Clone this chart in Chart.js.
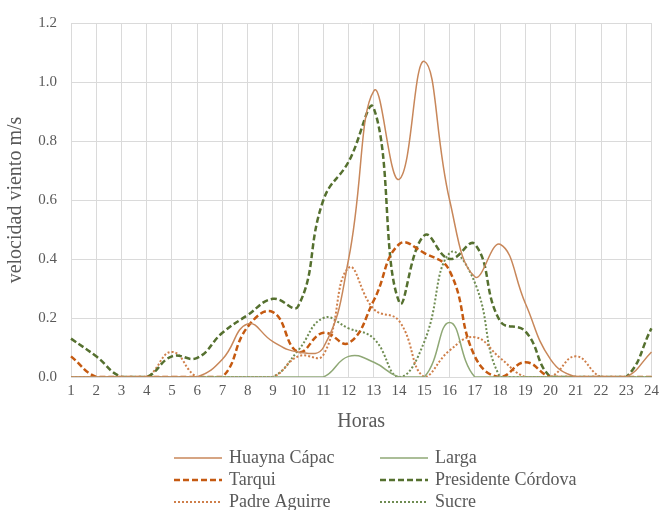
<!DOCTYPE html>
<html>
<head>
<meta charset="utf-8">
<title>Velocidad del viento por hora</title>
<script src="https://cdn.jsdelivr.net/npm/chart.js@4.4.1/dist/chart.umd.min.js"></script>
<style>
  html, body { margin: 0; padding: 0; background: #fff; }
  #wrap { width: 664px; height: 510px; }
</style>
</head>
<body>
<div id="wrap"><canvas id="windChart" width="664" height="510"></canvas></div>
<script>
// Horas del día
const hours = ['1', '2', '3', '4', '5', '6', '7', '8', '9', '10', '11', '12',
  '13', '14', '15', '16', '17', '18', '19', '20', '21', '22', '23', '24'];

// Velocidad del viento (m/s) por calle
const huaynaCapac = [0, 0, 0, 0, 0, 0, 0.06, 0.18, 0.12, 0.085, 0.10, 0.40,
  0.97, 0.67, 1.07, 0.60, 0.34, 0.45, 0.25, 0.06, 0, 0, 0, 0.085];
const larga = [0, 0, 0, 0, 0, 0, 0, 0, 0, 0, 0, 0.07,
  0.05, 0, 0, 0.185, 0, 0, 0, 0, 0, 0, 0, 0];
const tarqui = [0.07, 0, 0, 0, 0, 0, 0, 0.17, 0.22, 0.085, 0.15, 0.115,
  0.26, 0.45, 0.42, 0.36, 0.07, 0, 0.05, 0, 0, 0, 0, 0];
const presidenteCordova = [0.13, 0.07, 0, 0, 0.07, 0.065, 0.15, 0.21, 0.265, 0.24, 0.60, 0.73,
  0.91, 0.255, 0.48, 0.40, 0.45, 0.19, 0.155, 0, 0, 0, 0, 0.165];
const padreAguirre = [0, 0, 0, 0, 0.085, 0, 0, 0, 0, 0.07, 0.075, 0.37,
  0.23, 0.19, 0, 0.09, 0.135, 0.065, 0, 0, 0.07, 0, 0, 0];
const sucre = [0, 0, 0, 0, 0, 0, 0, 0, 0, 0.09, 0.20, 0.165,
  0.13, 0, 0.12, 0.42, 0.32, 0, 0, 0, 0, 0, 0, 0];

const FONT = '"Liberation Serif", "Times New Roman", serif';
const GREY_TEXT = '#595959';
const GRID = '#dadada';

// posiciones de la leyenda (dos columnas, tres filas)
const LEGEND_COLS = [174, 380];
const LEGEND_ROWS = [458, 480, 502];

function serie(label, data, color, width, dash) {
  return {
    label: label,
    data: data,
    borderColor: color,
    backgroundColor: color,
    borderWidth: width,
    borderDash: dash,
    borderCapStyle: 'butt',
    pointRadius: 0,
    pointHoverRadius: 0,
    fill: false,
    tension: 0.45
  };
}

// leyenda dibujada a mano para tener dos columnas alineadas
const twoColumnLegend = {
  id: 'twoColumnLegend',
  afterDraw(chart) {
    const ctx = chart.ctx;
    ctx.save();
    ctx.font = '18px ' + FONT;
    ctx.textBaseline = 'middle';
    ctx.textAlign = 'left';
    chart.data.datasets.forEach((ds, i) => {
      const x = LEGEND_COLS[i % 2];
      const y = LEGEND_ROWS[Math.floor(i / 2)];
      ctx.strokeStyle = ds.borderColor;
      ctx.lineWidth = ds.borderWidth;
      ctx.lineCap = 'butt';
      ctx.setLineDash(ds.borderDash || []);
      ctx.beginPath();
      ctx.moveTo(x, y);
      ctx.lineTo(x + 48, y);
      ctx.stroke();
      ctx.setLineDash([]);
      ctx.fillStyle = GREY_TEXT;
      ctx.fillText(ds.label, x + 55, y);
    });
    ctx.restore();
  }
};

const ctx = document.getElementById('windChart').getContext('2d');
new Chart(ctx, {
  type: 'line',
  data: {
    labels: hours,
    datasets: [
      serie('Huayna Cápac', huaynaCapac, '#c8875a', 1.5, []),
      serie('Larga', larga, '#8fa876', 1.5, []),
      serie('Tarqui', tarqui, '#c55a11', 2.5, [6, 3]),
      serie('Presidente Córdova', presidenteCordova, '#55702f', 2.5, [6, 3]),
      serie('Padre Aguirre', padreAguirre, '#cf7f4a', 2, [2, 2]),
      serie('Sucre', sucre, '#6f8c52', 2, [2, 2])
    ]
  },
  options: {
    responsive: false,
    animation: false,
    layout: { padding: { top: 20, right: 9, bottom: 73, left: 0 } },
    plugins: {
      legend: { display: false },
      tooltip: { enabled: false }
    },
    scales: {
      x: {
        type: 'category',
        offset: false,
        grid: { color: GRID, lineWidth: 1, drawTicks: false },
        border: { color: GRID },
        ticks: {
          color: GREY_TEXT,
          font: { family: FONT, size: 15 },
          padding: 5,
          maxRotation: 0,
          autoSkip: false
        },
        title: {
          display: true,
          text: 'Horas',
          color: GREY_TEXT,
          font: { family: FONT, size: 20 },
          padding: { top: 0, bottom: 3 }
        },
        afterFit(scale) { scale.height = 60; }
      },
      y: {
        min: 0,
        max: 1.2,
        grid: { color: GRID, lineWidth: 1, drawTicks: false },
        border: { color: GRID },
        ticks: {
          stepSize: 0.2,
          color: GREY_TEXT,
          font: { family: FONT, size: 15 },
          padding: 14,
          callback: v => Number(v).toFixed(1)
        },
        title: {
          display: true,
          text: 'velocidad viento m/s',
          color: GREY_TEXT,
          font: { family: FONT, size: 20 },
          padding: { top: 4, bottom: 0 }
        },
        afterFit(scale) { scale.width = 71; }
      }
    }
  },
  plugins: [twoColumnLegend]
});
</script>
</body>
</html>
